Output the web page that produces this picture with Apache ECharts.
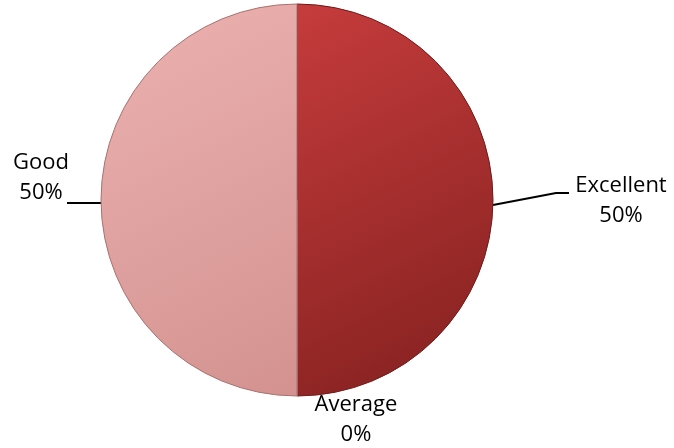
<!DOCTYPE html>
<html><head><meta charset="utf-8">
<script src="https://cdn.jsdelivr.net/npm/echarts@6/dist/echarts.min.js"></script>
<style>html,body{margin:0;padding:0;background:#fff}#c{width:674px;height:448px}</style>
</head><body><div id="c"></div>
<script>
var categories = ['Excellent', 'Average', 'Good'];
var values = [50, 0, 50];
var labelsPct = ['50%', '0%', '50%'];

var colors = [
  new echarts.graphic.LinearGradient(0, 0, 1, 1, [{offset: 0, color: '#c63c3c'}, {offset: 1, color: '#82201f'}]),
  '#b05050',
  new echarts.graphic.LinearGradient(0, 0, 1, 1, [{offset: 0, color: '#ecb2b0'}, {offset: 1, color: '#d39290'}])
];
var labelPos = [
  {x: 621, y: 201, align: 'center', line: [[493, 205], [556, 193], [569, 193]]},
  {x: 356, y: 420, align: 'center', line: null},
  {x: 41, y: 178, align: 'center', line: [[102, 203], [85, 203], [67, 203]]}
];

var chart = echarts.init(document.getElementById('c'));
chart.setOption({
  animation: false,
  series: [{
    type: 'pie',
    center: [297, 200],
    radius: 196,
    startAngle: 90,
    clockwise: true,
    minAngle: 0,
    avoidLabelOverlap: false,
    data: categories.map(function (c, i) {
      return {
        name: c, value: values[i],
        itemStyle: {color: colors[i], borderColor: i === 0 ? '#6e1a1a' : '#a87271', borderWidth: 1},
        labelLine: {show: i !== 1}
      };
    }),
    label: {
      show: true,
      position: 'outside',
      formatter: function (p) { return p.name + '\n' + labelsPct[p.dataIndex]; },
      fontFamily: 'Open Sans, Liberation Sans, sans-serif',
      fontSize: 22,
      lineHeight: 30,
      color: '#000'
    },
    labelLine: {show: true, lineStyle: {color: '#000', width: 2}, length: 20, length2: 15},
    labelLayout: function (params) {
      var lp = labelPos[params.dataIndex];
      var r = {x: lp.x, y: lp.y, align: lp.align, verticalAlign: 'middle'};
      if (lp.line) r.labelLinePoints = lp.line;
      return r;
    }
  }]
});
</script></body></html>
